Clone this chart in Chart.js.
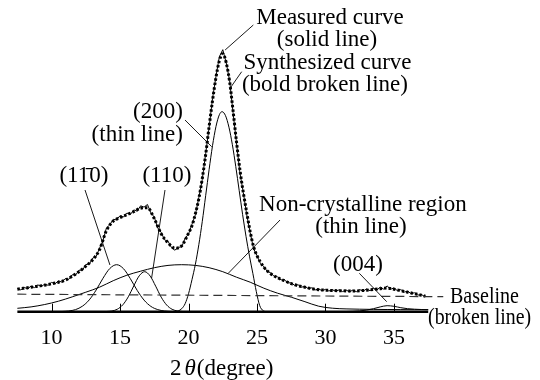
<!DOCTYPE html>
<html>
<head>
<meta charset="utf-8">
<script src="https://cdn.jsdelivr.net/npm/chart.js@4.4.1/dist/chart.umd.min.js"></script>
<style>
  html, body { margin: 0; padding: 0; background: #fff; }
  #xrd { display: block; }
</style>
</head>
<body>
<canvas id="xrd" width="540" height="380"></canvas>
<script>
// 2θ tick labels
const tickLabels = [10, 15, 20, 25, 30, 35];

// Measured curve (thin solid line, noisy)
const measuredAngle = [7.5, 7.75, 8, 8.25, 8.5, 8.75, 9, 9.25, 9.5, 9.75,
  10, 10.25, 10.5, 10.75, 11, 11.25, 11.5, 11.75, 12, 12.25,
  12.5, 12.75, 13, 13.25, 13.5, 13.75, 14, 14.25, 14.5, 14.75,
  15, 15.25, 15.5, 15.75, 16, 16.25, 16.5, 16.75, 17, 17.25,
  17.5, 17.75, 18, 18.25, 18.5, 18.75, 19, 19.25, 19.5, 19.75,
  20, 20.25, 20.5, 20.75, 21, 21.25, 21.5, 21.75, 22, 22.25,
  22.5, 22.75, 23, 23.25, 23.5, 23.75, 24, 24.25, 24.5, 24.75,
  25, 25.25, 25.5, 25.75, 26, 26.25, 26.5, 26.75, 27, 27.25,
  27.5, 27.75, 28, 28.25, 28.5, 28.75, 29, 29.25, 29.5, 29.75,
  30, 30.25, 30.5, 30.75, 31, 31.25, 31.5, 31.75, 32, 32.25,
  32.5, 32.75, 33, 33.25, 33.5, 33.75, 34, 34.25, 34.5, 34.75,
  35, 35.25, 35.5, 35.75, 36, 36.25, 36.5, 36.75, 37, 37.25];
const measuredIntensity = [23.4, 21.8, 24.3, 22.9, 25.6, 24.1, 26.8, 25.2, 27.6, 26.4,
  29.3, 27.9, 30.8, 29.6, 33.1, 32.4, 36.9, 36.6, 41.5, 41.4,
  47.2, 47.5, 53.6, 55.1, 63.5, 71, 83.6, 86.9, 92.4, 91.8,
  96.1, 94.7, 98.6, 97.2, 101.8, 100.5, 105.9, 104.6, 107.2, 98.8,
  94.5, 83.7, 79.4, 71.8, 70.5, 64.2, 61.5, 64.4, 64.8, 73.3,
  77.8, 87.4, 97, 114, 132, 158, 184, 213, 235, 255,
  262, 249, 231, 199, 169, 139, 119, 97, 79, 63,
  56, 48.2, 45, 40.2, 38.9, 35.3, 34.8, 31.8, 31.9, 28.8,
  28.9, 26.3, 26.9, 24.5, 25.4, 23, 23.9, 21.8, 22.8, 21,
  22.3, 20.7, 22, 20.4, 21.9, 20.1, 21.7, 19.9, 21.6, 20,
  22.1, 20.5, 22.8, 21, 23.4, 21.7, 24.6, 22.6, 25.8, 22.4,
  23.8, 21, 22.1, 19.6, 20.5, 18.1, 18.9, 16.6, 17.2, 15.2];

// Synthesized curve (bold broken line)
const synthAngle = [7.5, 8, 8.5, 9, 9.5, 10, 10.5, 11, 11.5, 12, 12.5, 13, 13.5,
  14, 14.5, 15, 15.5, 16, 16.5, 17, 17.5, 18, 18.5, 19, 19.5, 20,
  20.25, 20.5, 20.75, 21, 21.25, 21.5, 21.75, 22, 22.25, 22.5, 22.75,
  23, 23.25, 23.5, 23.75, 24, 24.25, 24.5, 24.75, 25,
  25.5, 26, 26.5, 27, 27.5, 28, 28.5, 29, 29.5, 30,
  31, 32, 33, 34, 34.5, 35, 36, 37, 37.3];
const synthIntensity = [22.5, 23.5, 24.5, 25.5, 26.5, 28, 29.5, 31.5, 35.5, 40, 45.5, 52, 62,
  81, 90.5, 94, 97, 100, 103.5, 104, 93, 78, 69, 63.5, 66, 78.5,
  86, 98, 113, 133, 157, 185, 211, 234, 251, 258, 249,
  230, 201, 170, 142, 119, 99, 80, 65, 56,
  44.5, 38, 34, 31, 28, 26, 24.5, 23, 22, 21.5,
  21, 20.7, 21.5, 23, 23.6, 22.5, 19.5, 16.5, 15.5];

// (1-10) peak
const peak1m10Angle = [10.75, 11.25, 11.75, 12.25, 12.75, 13.25, 13.75, 14.25, 14.75,
  15.25, 15.75, 16.25, 16.75, 17.25, 17.75, 18.25, 18.75, 19.25];
const peak1m10Intensity = [0.2, 0.7, 2.1, 5.5, 11.8, 21.6, 33.4, 43.2, 47,
  43, 33, 21.3, 11.6, 5.3, 2.1, 0.7, 0.2, 0];

// (110) peak
const peak110Angle = [14, 14.4, 14.8, 15.2, 15.6, 16, 16.4, 16.8, 17.2, 17.6, 18, 18.4, 18.8, 19.2, 19.6];
const peak110Intensity = [0.2, 0.7, 2.5, 6.9, 14.9, 25.8, 35.9, 40, 35.6, 25.5, 14.6, 6.7, 2.4, 0.7, 0.2];

// (200) peak
const peak200Angle = [19, 19.25, 19.5, 19.75, 20, 20.25, 20.5, 20.75, 21, 21.25, 21.5, 21.75, 22, 22.25,
  22.45, 22.7, 22.95, 23.2, 23.45, 23.7, 23.95, 24.2, 24.45, 24.7, 24.95, 25.2, 25.45, 25.7];
const peak200Intensity = [0, 0.8, 3, 8, 18, 32, 47.5, 67, 90, 116, 142, 166, 185, 197,
  200, 196, 184.5, 167, 145, 121, 97, 75, 55.5, 38, 20, 6, 1, 0];

// Non-crystalline region
const broadAngle = [7.5, 8.5, 9.5, 10.5, 11.5, 12.5, 13.5, 14.5, 15.5, 16.5, 17.5, 18.5, 19.5, 20.5, 21.5,
  22.5, 23.5, 24.5, 25.5, 26.5, 27.5, 28.5, 29.5, 30.5, 31.5, 32.5, 33.5, 34.5, 35.5, 36.5, 37.5];
const broadIntensity = [3.4, 4.8, 7.2, 10.5, 14.8, 19.5, 24.5, 31, 36.5, 40.5, 44, 46.3, 47, 46.3, 44,
  40, 34.5, 29.5, 23.5, 18.5, 14.5, 10, 5.5, 3.5, 2.8, 2.5, 2.3, 2.2, 2.1, 2, 2];

// (004) peak
const peak004Angle = [30.5, 31.5, 32.5, 33, 33.5, 34, 34.5, 35, 35.5, 36, 36.5, 37, 37.5];
const peak004Intensity = [0, 0.2, 0.8, 1.6, 3, 4.8, 6, 5.4, 4, 3, 2.5, 2.2, 2];

// Baseline (broken line)
const baselineAngle = [7.5, 38.6];
const baselineIntensity = [17.5, 15];

const points = (xs, ys) => xs.map((v, i) => ({ x: v, y: ys[i] }));

const SERIF = "'Liberation Serif', 'Times New Roman', serif";

// text labels, placed in data coordinates
const labels = [
  { text: "Measured curve", x: 30.33, y: 293.7 },
  { text: "(solid line)", x: 30.11, y: 271.7 },
  { text: "Synthesized curve", x: 30.15, y: 248.7 },
  { text: "(bold broken line)", x: 29.96, y: 226.7 },
  { text: "(200)", x: 19.59, y: 199.7, align: "right" },
  { text: "(thin line)", x: 19.59, y: 176.7, align: "right" },
  { text: "(11\u03040)", x: 12.36, y: 135.7 },
  { text: "(110)", x: 18.42, y: 135.7 },
  { text: "Non-crystalline region", x: 32.73, y: 106.7 },
  { text: "(thin line)", x: 32.59, y: 84.7 },
  { text: "(004)", x: 32.37, y: 46.7 },
  { text: "Baseline", x: 39.09, y: 14.7, align: "left", maxWidth: 69 },
  { text: "(broken line)", x: 37.49, y: -6.3, align: "left", maxWidth: 103 },
];

// leader lines from labels to curves
const leaders = [
  [12.44, 121.7, 14.26, 46.7],
  [18.28, 121.7, 17.3, 33.4],
  [19.74, 191.7, 21.69, 165],
  [24.73, 286.7, 22.67, 261.7],
  [23.88, 240, 23.03, 223.4],
  [26.68, 91.7, 22.9, 38.4],
  [32.47, 38.4, 34.47, 10],
];

const decorations = {
  id: "decorations",
  afterDatasetsDraw(chart) {
    const { ctx, scales: { x, y } } = chart;
    const y0 = y.getPixelForValue(0);
    ctx.save();

    // thick x axis line
    ctx.strokeStyle = "#000";
    ctx.lineWidth = 2.5;
    ctx.beginPath();
    ctx.moveTo(x.getPixelForValue(7.5), y0);
    ctx.lineTo(x.getPixelForValue(37.5), y0);
    ctx.stroke();

    // upward tick marks
    ctx.lineWidth = 1;
    tickLabels.forEach((t) => {
      const px = Math.round(x.getPixelForValue(t)) + 0.5;
      ctx.beginPath();
      ctx.moveTo(px, y0);
      ctx.lineTo(px, y0 - 8);
      ctx.stroke();
    });

    // leader lines
    ctx.lineWidth = 0.9;
    leaders.forEach(([x1, y1, x2, y2]) => {
      ctx.beginPath();
      ctx.moveTo(x.getPixelForValue(x1), y.getPixelForValue(y1));
      ctx.lineTo(x.getPixelForValue(x2), y.getPixelForValue(y2));
      ctx.stroke();
    });

    // labels
    ctx.fillStyle = "#000";
    ctx.font = "23px " + SERIF;
    ctx.textBaseline = "middle";
    labels.forEach((l) => {
      ctx.textAlign = l.align || "center";
      const px = x.getPixelForValue(l.x), py = y.getPixelForValue(l.y);
      if (l.maxWidth) ctx.fillText(l.text, px, py, l.maxWidth);
      else ctx.fillText(l.text, px, py);
    });

    // axis title: 2θ(degree)
    const parts = [
      { t: "2", f: "23px " + SERIF, gap: 3 },
      { t: "\u03B8", f: "italic 23px " + SERIF, gap: 1 },
      { t: "(degree)", f: "23px " + SERIF, gap: 0 },
    ];
    let cx = 170;
    ctx.textAlign = "left";
    parts.forEach((p) => {
      ctx.font = p.f;
      ctx.fillText(p.t, cx, 369);
      cx += ctx.measureText(p.t).width + p.gap;
    });

    ctx.restore();
  },
};

const thin = { borderColor: "#000", borderWidth: 1, pointRadius: 0, cubicInterpolationMode: "monotone", fill: false };

new Chart(document.getElementById("xrd"), {
  type: "line",
  data: {
    datasets: [
      { label: "Baseline", data: points(baselineAngle, baselineIntensity), borderColor: "#333", borderWidth: 1.2, borderDash: [9, 5], pointRadius: 0 },
      { label: "Non-crystalline region", data: points(broadAngle, broadIntensity), ...thin },
      { label: "(1-10)", data: points(peak1m10Angle, peak1m10Intensity), ...thin },
      { label: "(110)", data: points(peak110Angle, peak110Intensity), ...thin },
      { label: "(200)", data: points(peak200Angle, peak200Intensity), ...thin },
      { label: "(004)", data: points(peak004Angle, peak004Intensity), ...thin },
      { label: "Synthesized curve", data: points(synthAngle, synthIntensity), borderColor: "#000", borderWidth: 3, borderDash: [2.5, 2], pointRadius: 0, cubicInterpolationMode: "monotone" },
      { label: "Measured curve", data: points(measuredAngle, measuredIntensity), borderColor: "#000", borderWidth: 1, pointRadius: 0, tension: 0 },
    ],
  },
  options: {
    responsive: false,
    animation: false,
    devicePixelRatio: 1,
    layout: { padding: { left: 16, right: 94, top: 11.7, bottom: 0 } },
    plugins: { legend: { display: false }, tooltip: { enabled: false } },
    scales: {
      x: {
        type: "linear",
        min: 7.4,
        max: 38.8,
        grid: { display: false, drawTicks: false },
        border: { display: false },
        afterBuildTicks: (scale) => { scale.ticks = tickLabels.map((v) => ({ value: v })); },
        afterFit: (scale) => { scale.height = 68.3; },
        ticks: { color: "#000", padding: 13, maxRotation: 0, font: { family: SERIF, size: 22 } },
      },
      y: { display: false, min: 0, max: 300 },
    },
  },
  plugins: [decorations],
});
</script>
</body>
</html>
